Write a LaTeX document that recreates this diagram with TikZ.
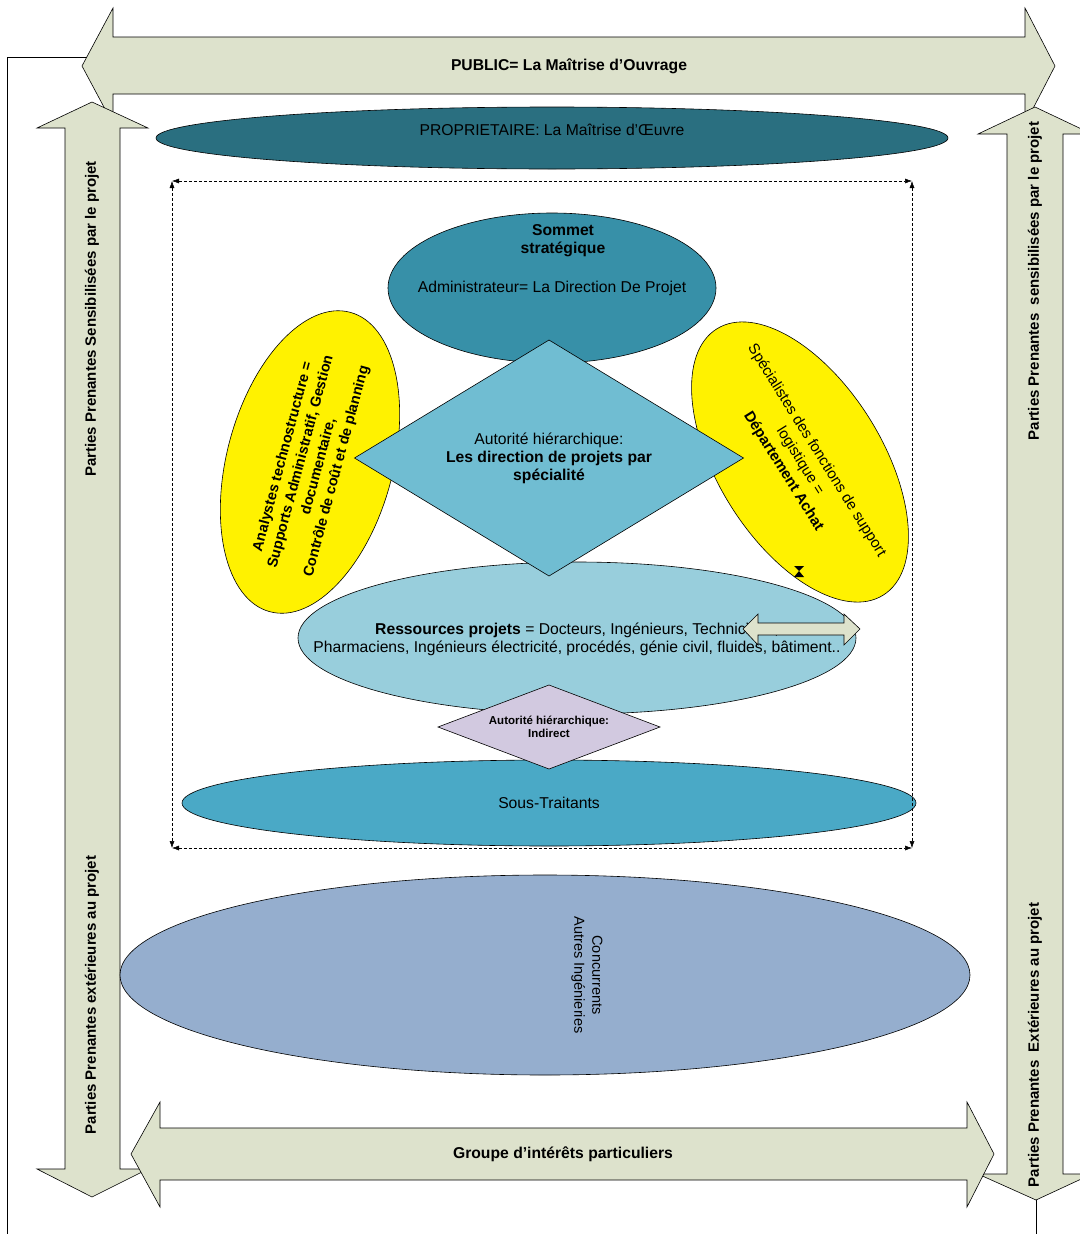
\documentclass[tikz,border=0pt]{standalone}
\usepackage{fontspec}
\setmainfont{Liberation Sans}
\usetikzlibrary{arrows,arrows.meta,positioning,shapes.geometric}

\definecolor{flechefond}{RGB}{221,226,204}
\definecolor{proprio}{RGB}{42,111,128}
\definecolor{sommet}{RGB}{55,144,168}
\definecolor{autorite}{RGB}{112,189,210}
\definecolor{ressources}{RGB}{152,206,220}
\definecolor{soustraitants}{RGB}{74,169,198}
\definecolor{concurrents}{RGB}{149,174,206}
\definecolor{indirect}{RGB}{210,201,224}

\begin{document}
\begin{tikzpicture}[x=1pt, y=-1pt, line width=.6pt,
	font=\fontsize{15.7}{18}\selectfont,
	fleche/.style={draw=black, fill=flechefond},
	vert/.style={rotate=90, font=\fontsize{15}{18}\bfseries},
	blob/.style={ellipse, draw=black, inner sep=0pt, outer sep=0pt},
	losange/.style={diamond, draw=black, inner sep=0pt, outer sep=0pt, align=center},
	cadre/.style={{Latex[length=7pt,width=5pt]}-{Latex[length=7pt,width=5pt]}, densely dashed, line width=.5pt}]
				\useasboundingbox (0,0) rectangle (1079,1234);
				% fils
				\draw (7,1234) -- (7,57) -- (95,57);
				\draw (1036,1190) -- (1036,1234);
				% grandes fleches
				\draw[fleche] (82,66) -- (113,8) -- (113,37) -- (1025,37) -- (1025,8) -- (1055,66) -- (1025,124) -- (1025,94) -- (113,94) -- (113,124) -- cycle;
				\node (public) at (569,66) {\bfseries PUBLIC= La Maîtrise d’Ouvrage};
				\draw[fleche] (92,102) -- (148,128) -- (120,128) -- (120,1169) -- (148,1169) -- (92,1197) -- (37,1169) -- (65,1169) -- (65,128) -- (37,128) -- cycle;
				\node[vert] (sens-g) at (92,319) {Parties Prenantes Sensibilisées par le projet};
				\node[vert] (ext-g) at (92,995) {Parties Prenantes extérieures au projet};
				\draw[fleche] (1035,107) -- (1092,134) -- (1063,134) -- (1063,1174) -- (1092,1174) -- (1036,1200) -- (978,1174) -- (1007,1174) -- (1007,134) -- (978,134) -- cycle;
				\node[vert] (sens-d) at (1035,281) {Parties Prenantes\ \ sensibilisées par le projet};
				\node[vert] (ext-d) at (1035,1045) {Parties Prenantes\ \ Extérieures au projet};
				\draw[fleche] (131,1154) -- (160,1102) -- (160,1128) -- (967,1128) -- (967,1102) -- (994,1154) -- (967,1207) -- (967,1180) -- (160,1180) -- (160,1207) -- cycle;
				\node (groupe) at (563,1154) {\bfseries Groupe d’intérêts particuliers};
				% ellipses
				\node[blob, fill=proprio, minimum width=792pt, minimum height=62pt] (maitrise) at (552,138) {};
				\node at ([yshift=8pt]maitrise.center) (maitrise-txt) {PROPRIETAIRE: La Maîtrise d’Œuvre};
				\node[blob, fill=sommet, minimum width=328pt, minimum height=150pt] (sommet) at (552,288) {};
				\node[align=center, font=\fontsize{15.7}{18}\bfseries] (sommet-titre) at (563,241) {Sommet\\stratégique};
				\node (admin) at (552,288) {Administrateur= La Direction De Projet};
				\node[blob, fill=ressources, minimum width=558pt, minimum height=152pt] (ress) at (577,638) {};
				\node[align=center] (ress-txt) at (577,639) {\textbf{Ressources projets} = Docteurs, Ingénieurs, Techniciens,\\Pharmaciens, Ingénieurs électricité, procédés, génie civil, fluides, bâtiment..};
				\node[blob, fill=yellow, rotate=75, minimum width=310pt, minimum height=166pt] (analystes) at (310,462) {};
				\node[rotate=75, align=center, font=\fontsize{14.5}{18.5}\bfseries] (analystes-txt) at (310,464) {Analystes technostructure =\\Supports Administratif, Gestion\\documentaire,\\Contrôle de coût et de planning};
				\node[blob, fill=yellow, rotate=-58, minimum width=314pt, minimum height=164pt] (specialistes) at (800,462) {};
				\node[rotate=-58, align=center, font=\fontsize{15}{19.5}\selectfont] (specialistes-txt) at (800,461) {Spécialistes des fonctions de support\\logistique =\\\textbf{Département Achat}};
				\node[losange, fill=autorite, minimum width=389pt, minimum height=236pt, aspect=1.65] (autorite) at (549,458) {Autorité hiérarchique:\\\textbf{Les direction de projets par}\\\textbf{spécialité}};
				% petite fleche
				\draw[fleche] (743,629) -- (758,614) -- (758,623) -- (844,623) -- (844,614) -- (860,629) -- (844,645) -- (844,635) -- (758,635) -- (758,645) -- cycle;
				\node[blob, fill=soustraitants, minimum width=734pt, minimum height=86pt] (sous) at (549,803) {Sous-Traitants};
				\node[losange, fill=indirect, minimum width=222pt, minimum height=84pt, aspect=2.6, font=\fontsize{11.5}{13}\bfseries] (indirect) at (549,727) {Autorité hiérarchique:\\Indirect};
				\fill (794,566) -- (804,566) -- (799,571) -- (804,577) -- (794,577) -- (799,571) -- cycle;
				\node[blob, fill=concurrents, minimum width=850pt, minimum height=200pt] (conc) at (545,975) {};
				\node[rotate=-90, align=center, font=\fontsize{14.5}{18}\selectfont] (conc-txt) at (587,975) {Concurrents\\Autres Ingénieries};
				% cadre pointille
				\coordinate (cadre-no) at (172,181);
				\coordinate (cadre-ne) at (912,181);
				\coordinate (cadre-se) at (912,848);
				\coordinate (cadre-so) at (172,848);
				\draw[cadre] (cadre-no) -- (cadre-ne);
				\draw[cadre] (cadre-no) -- (cadre-so);
				\draw[cadre] (cadre-ne) -- (cadre-se);
				\draw[cadre] (cadre-so) -- (cadre-se);
\end{tikzpicture}
\end{document}
